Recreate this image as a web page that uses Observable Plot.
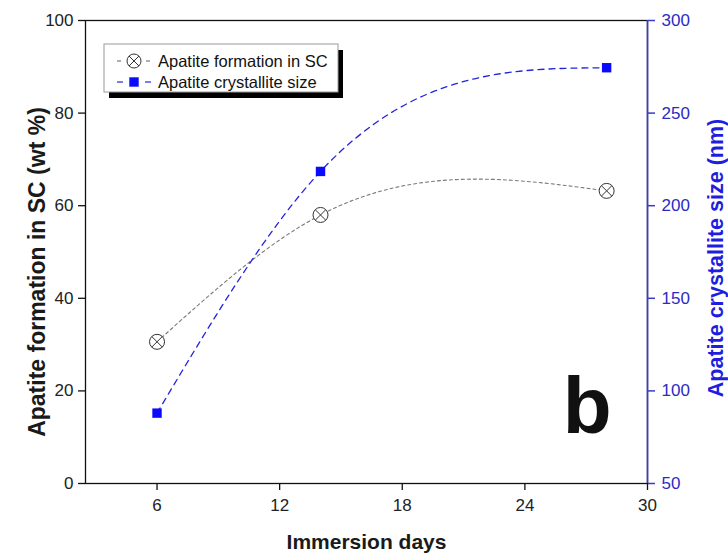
<!DOCTYPE html>
<html>
<head>
<meta charset="utf-8">
<script src="https://cdn.jsdelivr.net/npm/d3@7"></script>
<script src="https://cdn.jsdelivr.net/npm/@observablehq/plot@0.6"></script>
<style>
  html, body { margin: 0; padding: 0; background: white; }
  #wrap { position: relative; width: 728px; height: 555px; font-family: "Liberation Sans", Arial, sans-serif; }
  #legend { position: absolute; left: 0; top: 0; pointer-events: none; }
</style>
</head>
<body>
<div id="wrap"></div>
<script>
// ---- data ----
const days = [6, 14, 28];
const apatiteSC = [30.6, 58.0, 63.2];          // wt %
const crystalliteSize = [88, 218.5, 274.5];     // nm
const xTicks = [6, 12, 18, 24, 30];
const leftTicks = [0, 20, 40, 60, 80, 100];
const rightTicks = [50, 100, 150, 200, 250, 300];
const seriesNames = ["Apatite formation in SC", "Apatite crystallite size"];

// right axis (50..300) mapped onto the left axis range (0..100)
const rightDomain = [50, 300];
const leftDomain = [0, 100];
const toLeft = v => leftDomain[0] + (v - rightDomain[0]) * (leftDomain[1] - leftDomain[0]) / (rightDomain[1] - rightDomain[0]);
const fromLeft = v => rightDomain[0] + (v - leftDomain[0]) * (rightDomain[1] - rightDomain[0]) / (leftDomain[1] - leftDomain[0]);

const scData = days.map((d, i) => ({day: d, value: apatiteSC[i]}));
const sizeData = days.map((d, i) => ({day: d, value: toLeft(crystalliteSize[i])}));

const FONT = '"Liberation Sans", Arial, sans-serif';
const BLUE_AXIS = "#3a3ac8";
const BLUE_LABEL = "#2b2bc4";
const BLUE_TITLE = "#1e1ee0";
const BLUE_MARK = "#0a0aff";
const BLUE_LINE = "#2424dd";

// natural cubic spline y(x) (as in Origin's "Spline" connection), as a d3 curve factory
function curveSplineX(context) {
  let pts = [];
  return {
    areaStart() {}, areaEnd() {},
    lineStart() { pts = []; },
    point(x, y) { pts.push([+x, +y]); },
    lineEnd() {
      const n = pts.length;
      if (!n) return;
      context.moveTo(pts[0][0], pts[0][1]);
      if (n === 1) return;
      if (n === 2) { context.lineTo(pts[1][0], pts[1][1]); return; }
      const h = [], M = new Array(n).fill(0);
      for (let i = 0; i < n - 1; i++) h.push(pts[i + 1][0] - pts[i][0]);
      // tridiagonal system for interior second derivatives
      const m = n - 2, a = [], b = [], c = [], d = [];
      for (let i = 1; i <= m; i++) {
        a.push(h[i - 1]); b.push(2 * (h[i - 1] + h[i])); c.push(h[i]);
        d.push(6 * ((pts[i + 1][1] - pts[i][1]) / h[i] - (pts[i][1] - pts[i - 1][1]) / h[i - 1]));
      }
      for (let i = 1; i < m; i++) { const w = a[i] / b[i - 1]; b[i] -= w * c[i - 1]; d[i] -= w * d[i - 1]; }
      const sol = new Array(m);
      sol[m - 1] = d[m - 1] / b[m - 1];
      for (let i = m - 2; i >= 0; i--) sol[i] = (d[i] - c[i] * sol[i + 1]) / b[i];
      for (let i = 0; i < m; i++) M[i + 1] = sol[i];
      for (let i = 0; i < n - 1; i++) {
        const [x0, y0] = pts[i], [x1, y1] = pts[i + 1], hi = h[i];
        const s = (y1 - y0) / hi;
        const s0 = s - hi * (2 * M[i] + M[i + 1]) / 6;
        const s1 = s + hi * (M[i] + 2 * M[i + 1]) / 6;
        context.bezierCurveTo(x0 + hi / 3, y0 + s0 * hi / 3, x1 - hi / 3, y1 - s1 * hi / 3, x1, y1);
      }
    }
  };
}

const crossCircle = {
  draw(ctx, size) {
    const r = Math.sqrt(size / Math.PI);
    ctx.moveTo(r, 0);
    ctx.arc(0, 0, r, 0, 2 * Math.PI);
    const k = r * Math.SQRT1_2;
    ctx.moveTo(-k, -k); ctx.lineTo(k, k);
    ctx.moveTo(-k, k); ctx.lineTo(k, -k);
  }
};

const chart = Plot.plot({
  width: 728,
  height: 555,
  marginLeft: 85,
  marginRight: 81,
  marginTop: 20,
  marginBottom: 72,
  x: {domain: [2.5, 30]},
  y: {domain: leftDomain},
  style: {fontFamily: FONT, fontSize: "17px", color: "#222", background: "white", overflow: "visible"},
  marks: [
    Plot.frame({stroke: "#111", strokeWidth: 1.3}),
    Plot.ruleX([30], {stroke: BLUE_AXIS, strokeWidth: 1.6}),
    Plot.axisX({ticks: xTicks, tickSize: 7, tickPadding: 8, label: null, stroke: "#111", strokeWidth: 1.3, fill: "#222", fontSize: 17}),
    Plot.axisY({anchor: "left", ticks: leftTicks, tickSize: 7, tickPadding: 5, label: null, stroke: "#111", strokeWidth: 1.3, fill: "#222", fontSize: 17}),
    Plot.axisY({anchor: "right", ticks: rightTicks.map(toLeft), tickFormat: d => String(Math.round(fromLeft(d))), tickSize: 7, tickPadding: 7, label: null, stroke: BLUE_AXIS, strokeWidth: 1.5, fill: BLUE_LABEL, fontSize: 17}),
    Plot.line(scData, {x: "day", y: "value", curve: curveSplineX, stroke: "#7a7a7a", strokeWidth: 1.1, strokeDasharray: "3,3"}),
    Plot.line(sizeData, {x: "day", y: "value", curve: curveSplineX, stroke: BLUE_LINE, strokeWidth: 1.3, strokeDasharray: "6,5"}),
    Plot.dot(scData, {x: "day", y: "value", symbol: crossCircle, r: 7.5, stroke: "#333", strokeWidth: 1, fill: "white"}),
    Plot.dot(sizeData, {x: "day", y: "value", symbol: "square", r: 5.3, fill: BLUE_MARK, stroke: "none"}),
    Plot.text(["b"], {frameAnchor: "bottom-right", textAnchor: "end", lineAnchor: "bottom", dx: -36, dy: -51, fontSize: 80, fontWeight: "bold", fill: "#111"}),
    Plot.text(["Apatite formation in SC (wt %)"], {frameAnchor: "left", rotate: -90, textAnchor: "middle", lineAnchor: "middle", dx: -48, dy: 20, fontSize: 23, fontWeight: "bold", fill: "#1a1a1a", letterSpacing: "1.2px"}),
    Plot.text(["Apatite crystallite size (nm)"], {frameAnchor: "right", rotate: -90, textAnchor: "middle", lineAnchor: "middle", dx: 69, dy: 6, fontSize: 21.5, fontWeight: "bold", fill: BLUE_TITLE}),
    Plot.text(["Immersion days"], {frameAnchor: "bottom", textAnchor: "middle", lineAnchor: "bottom", dy: 65, fontSize: 21, fontWeight: "bold", fill: "#1a1a1a"})
  ]
});

const wrap = document.getElementById("wrap");
wrap.appendChild(chart);

// ---- legend overlay ----
const leg = d3.select(wrap).append("svg")
  .attr("id", "legend").attr("width", 728).attr("height", 555);
leg.append("rect").attr("x", 109).attr("y", 50).attr("width", 234).attr("height", 48).attr("fill", "#000");
leg.append("rect").attr("x", 104).attr("y", 44).attr("width", 234).attr("height", 48).attr("fill", "white").attr("stroke", "#999").attr("stroke-width", 1);

const rows = [
  {y: 61, name: seriesNames[0], color: "#7a7a7a", seg: [[117, 121], [146, 150]], kind: "circle"},
  {y: 82, name: seriesNames[1], color: BLUE_LINE, seg: [[117, 123], [145, 151]], kind: "square"}
];
rows.forEach(r => {
  r.seg.forEach(s => leg.append("line").attr("x1", s[0]).attr("x2", s[1]).attr("y1", r.y).attr("y2", r.y)
    .attr("stroke", r.color).attr("stroke-width", 1.2));
  if (r.kind === "circle") {
    const p = d3.path(); crossCircle.draw(p, Math.PI * 7 * 7);
    leg.append("path").attr("d", p.toString()).attr("transform", `translate(134,${r.y})`)
      .attr("fill", "white").attr("stroke", "#333").attr("stroke-width", 1);
  } else {
    leg.append("rect").attr("x", 134 - 4.7).attr("y", r.y - 4.7).attr("width", 9.4).attr("height", 9.4).attr("fill", BLUE_MARK);
  }
  leg.append("text").attr("x", 158).attr("y", r.y + 5.5).attr("font-family", FONT).attr("font-size", 16.5)
    .attr("fill", "#111").text(r.name);
});
</script>
</body>
</html>
